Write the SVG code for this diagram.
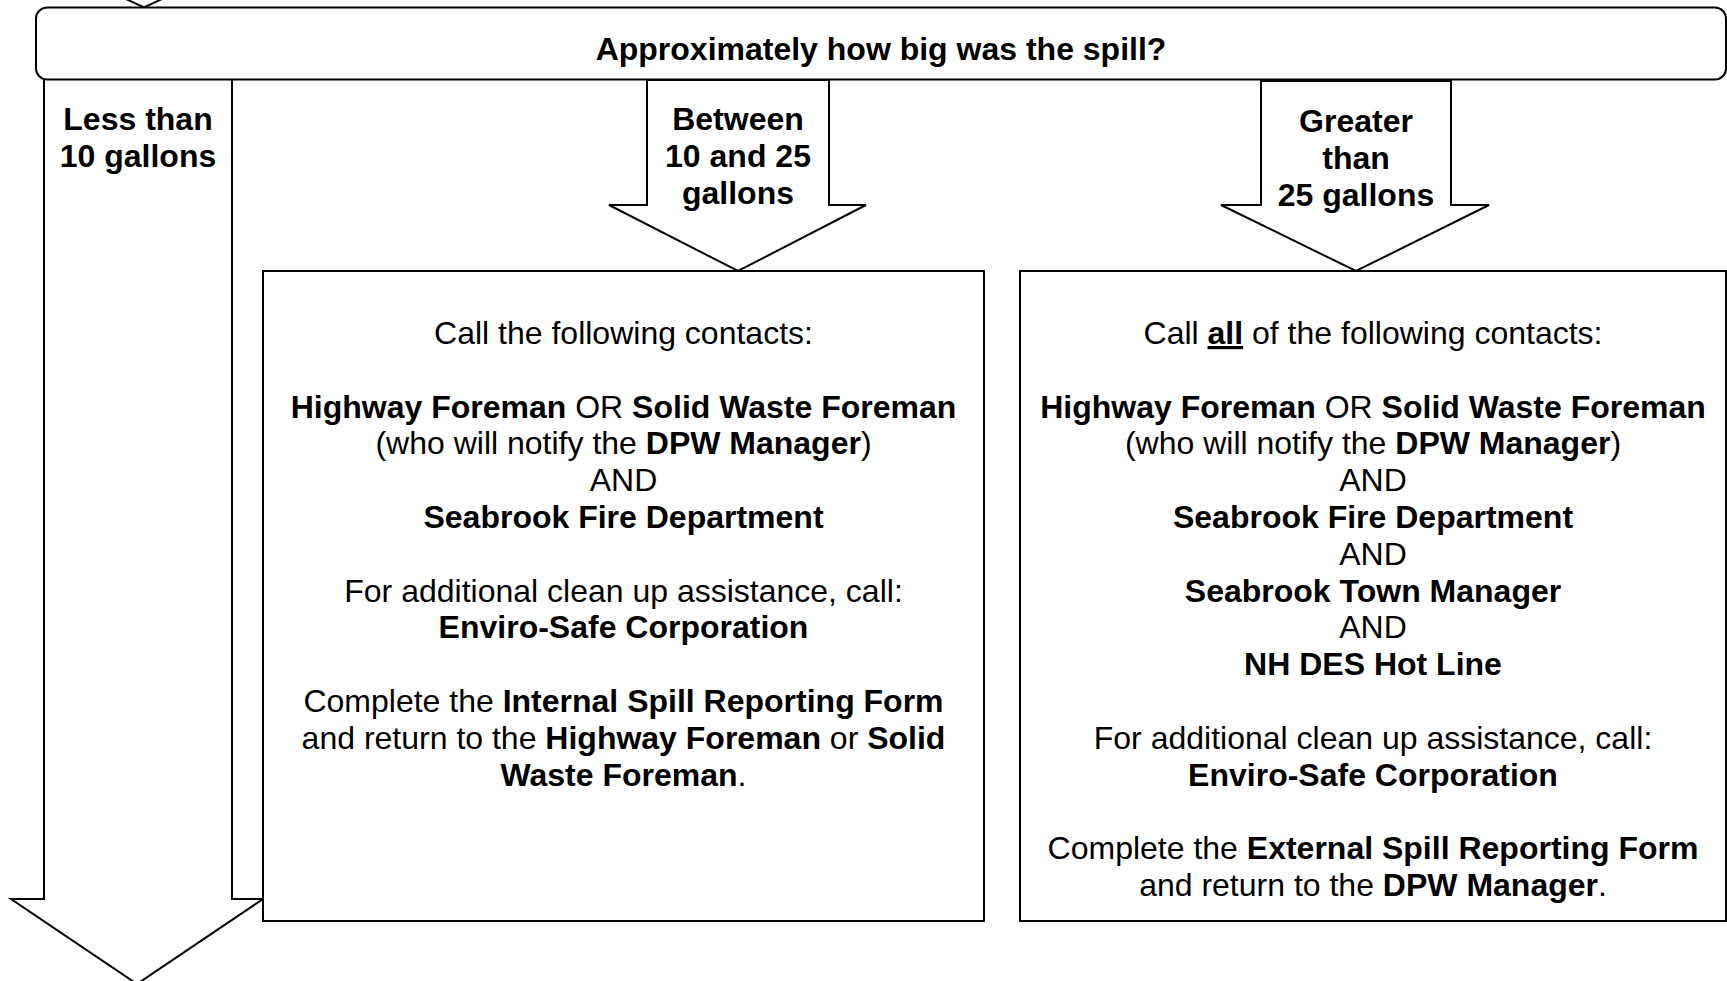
<svg xmlns="http://www.w3.org/2000/svg" width="1727" height="981" viewBox="0 0 1727 981">
<style>
.s{fill:#fff;stroke:#000;stroke-width:2;stroke-linejoin:miter}
.t{font-family:"Liberation Sans",Arial,sans-serif;font-size:32px;fill:#000;text-anchor:middle}
.b{font-weight:bold}
.u{text-decoration:underline}
</style>
<rect width="1727" height="981" fill="#fff"/>
<g id="connectors">
  <polyline class="s" fill="none" points="126,-1 144,7.5 162,-1"/>
  <polygon id="arrow-less" class="s" points="44,79 232,79 232,899 263,899 137,984 11,899 44,899"/>
  <polygon id="arrow-between" class="s" points="647,80 829,80 829,205 866,205 738,271 609,205 647,205"/>
  <polygon id="arrow-greater" class="s" points="1261,81 1451,81 1451,205 1489,205 1356,271 1221,205 1261,205"/>
</g>
<g id="question">
  <rect class="s" fill="none" x="36" y="7.5" width="1690" height="72" rx="11"/>
  <text class="t b" x="881" y="60">Approximately how big was the spill?</text>
</g>
<g id="label-less">
  <text class="t b" x="138" y="130">Less than</text>
  <text class="t b" x="138" y="167">10 gallons</text>
</g>
<g id="label-between">
  <text class="t b" x="738" y="130">Between</text>
  <text class="t b" x="738" y="166.8">10 and 25</text>
  <text class="t b" x="738" y="203.6">gallons</text>
</g>
<g id="label-greater">
  <text class="t b" x="1356" y="132">Greater</text>
  <text class="t b" x="1356" y="169">than</text>
  <text class="t b" x="1356" y="206">25 gallons</text>
</g>
<g id="box-between">
  <rect class="s" x="263" y="271" width="721" height="650"/>
  <text class="t" x="623.5" y="344">Call the following contacts:</text>
  <text class="t" x="623.5" y="417.6"><tspan class="b">Highway Foreman</tspan> OR <tspan class="b">Solid Waste Foreman</tspan></text>
  <text class="t" x="623.5" y="454.4">(who will notify the <tspan class="b">DPW Manager</tspan>)</text>
  <text class="t" x="623.5" y="491.2">AND</text>
  <text class="t b" x="623.5" y="528">Seabrook Fire Department</text>
  <text class="t" x="623.5" y="601.6">For additional clean up assistance, call:</text>
  <text class="t b" x="623.5" y="638.4">Enviro-Safe Corporation</text>
  <text class="t" x="623.5" y="712">Complete the <tspan class="b">Internal Spill Reporting Form</tspan></text>
  <text class="t" x="623.5" y="748.8">and return to the <tspan class="b">Highway Foreman</tspan> or <tspan class="b">Solid</tspan></text>
  <text class="t" x="623.5" y="785.6"><tspan class="b">Waste Foreman</tspan>.</text>
</g>
<g id="box-greater">
  <rect class="s" x="1020" y="271" width="706" height="650"/>
  <text class="t" x="1373" y="344">Call <tspan class="b u">all</tspan> of the following contacts:</text>
  <text class="t" x="1373" y="417.6"><tspan class="b">Highway Foreman</tspan> OR <tspan class="b">Solid Waste Foreman</tspan></text>
  <text class="t" x="1373" y="454.4">(who will notify the <tspan class="b">DPW Manager</tspan>)</text>
  <text class="t" x="1373" y="491.2">AND</text>
  <text class="t b" x="1373" y="528">Seabrook Fire Department</text>
  <text class="t" x="1373" y="564.8">AND</text>
  <text class="t b" x="1373" y="601.6">Seabrook Town Manager</text>
  <text class="t" x="1373" y="638.4">AND</text>
  <text class="t b" x="1373" y="675.2">NH DES Hot Line</text>
  <text class="t" x="1373" y="748.8">For additional clean up assistance, call:</text>
  <text class="t b" x="1373" y="785.6">Enviro-Safe Corporation</text>
  <text class="t" x="1373" y="859.2">Complete the <tspan class="b">External Spill Reporting Form</tspan></text>
  <text class="t" x="1373" y="896">and return to the <tspan class="b">DPW Manager</tspan>.</text>
</g>
</svg>
